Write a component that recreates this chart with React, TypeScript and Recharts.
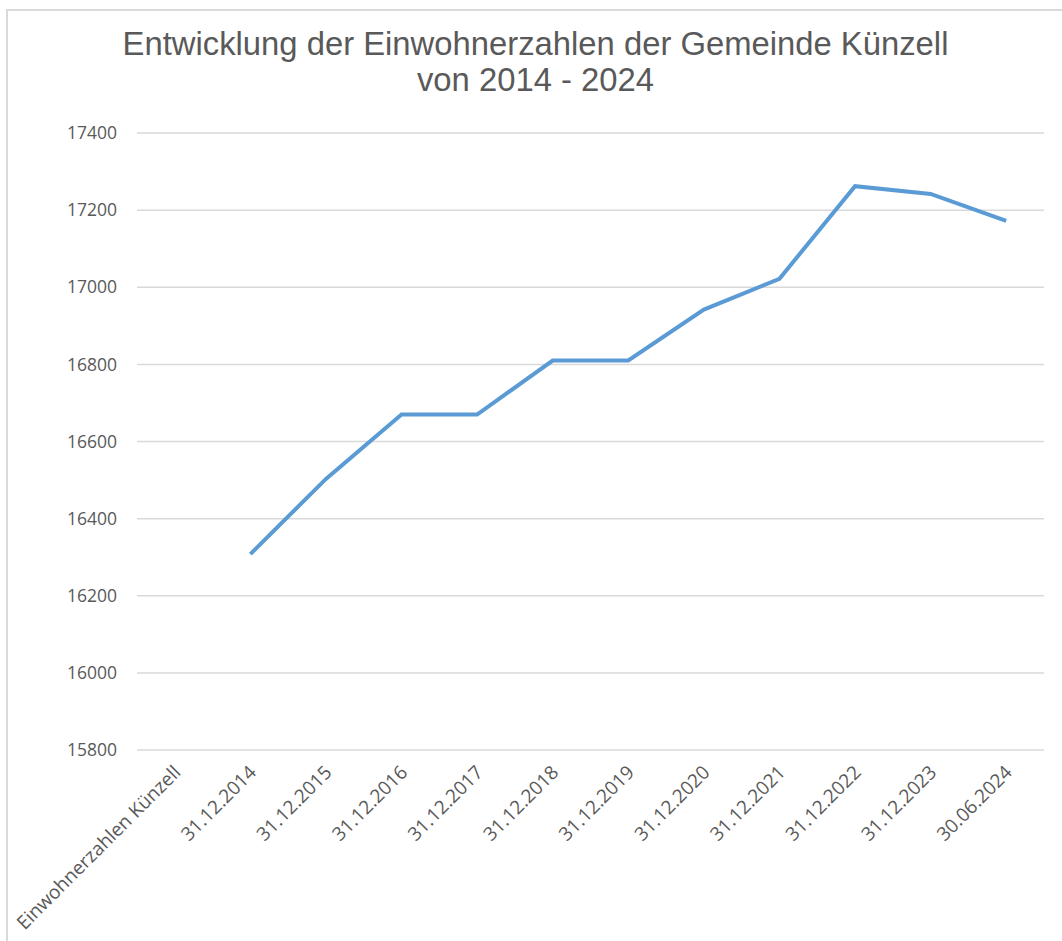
import { CartesianGrid, Line, LineChart, XAxis, YAxis } from "recharts";

const categories = [
  "Einwohnerzahlen Künzell",
  "31.12.2014",
  "31.12.2015",
  "31.12.2016",
  "31.12.2017",
  "31.12.2018",
  "31.12.2019",
  "31.12.2020",
  "31.12.2021",
  "31.12.2022",
  "31.12.2023",
  "30.06.2024"
];

const einwohner: (number | null)[] = [
  null, 16308, 16503, 16670, 16670, 16810, 16810, 16942, 17022, 17262, 17242, 17172
];

const yTicks = [15800, 16000, 16200, 16400, 16600, 16800, 17000, 17200, 17400];

const titleLines = ["Entwicklung der Einwohnerzahlen der Gemeinde Künzell", "von 2014 - 2024"];

const data = categories.map((label, i) => ({ label, value: einwohner[i] }));

const textColor = "#595959";
const tickFont = "'Open Sans', sans-serif";

function DateTick({ x, y, payload }: any) {
  return (
    <g transform={`translate(${x},${y})`}>
      <text
        x={-6}
        y={0}
        dy={16}
        textAnchor="end"
        transform="rotate(-45)"
        fill={textColor}
        fontSize={19}
        fontFamily={tickFont}
      >
        {payload.value}
      </text>
    </g>
  );
}

export default function App() {
  return (
    <div style={{ position: "absolute", left: 0, top: 0, width: 1062, height: 941, overflow: "hidden", background: "#fff" }}>
      <div
        style={{
          position: "absolute",
          left: 6,
          top: 9,
          width: 1200,
          height: 1100,
          border: "2px solid #d9d9d9"
        }}
      />
      <div
        style={{
          position: "absolute",
          left: 0,
          top: 26,
          width: 1071,
          textAlign: "center",
          fontFamily: "'Liberation Sans', Arial, sans-serif",
          fontSize: 32.8,
          lineHeight: "36px",
          color: textColor
        }}
      >
        {titleLines.map((t) => (
          <div key={t}>{t}</div>
        ))}
      </div>
      <div style={{ position: "absolute", left: 0, top: 0 }}>
        <LineChart width={1062} height={941} data={data} margin={{ top: 133, right: 18, bottom: 0, left: 0 }}>
          <CartesianGrid vertical={false} stroke="#d9d9d9" strokeWidth={1.5} />
          <XAxis
            dataKey="label"
            axisLine={false}
            tickLine={false}
            interval={0}
            height={191}
            padding={{ left: 37.8, right: 37.8 }}
            tick={<DateTick />}
          />
          <YAxis
            domain={[15800, 17400]}
            ticks={yTicks}
            axisLine={false}
            tickLine={false}
            width={137}
            tickMargin={14}
            tick={{ fill: textColor, fontSize: 17.5, fontFamily: tickFont }}
          />
          <Line
            type="linear"
            dataKey="value"
            stroke="#5b9bd5"
            strokeWidth={4}
            dot={false}
            connectNulls={false}
            isAnimationActive={false}
          />
        </LineChart>
      </div>
    </div>
  );
}
